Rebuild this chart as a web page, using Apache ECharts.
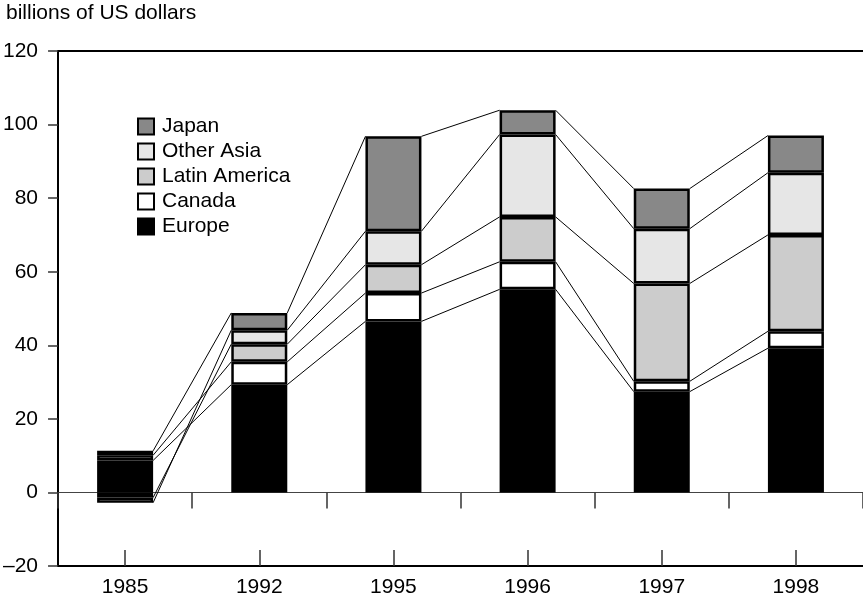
<!DOCTYPE html>
<html><head><meta charset="utf-8">
<script src="https://cdn.jsdelivr.net/npm/echarts@6.0.0/dist/echarts.min.js"></script>
<style>html,body{margin:0;padding:0;background:#fff}#c{width:863px;height:602px}</style>
</head><body><div id="c"></div>
<script>
// ---- data (billions of US dollars) ----
const categories   = ['1985', '1992', '1995', '1996', '1997', '1998'];
const europe       = [8.7, 29.3, 46.5, 55.2, 27.4, 39.2];
const canada       = [1.4, 6.2, 7.7, 7.5, 2.8, 4.6];
const latinAmerica = [-1.4, 4.8, 7.7, 12.2, 26.6, 26.2];
const otherAsia    = [-1.4, 3.8, 9.1, 22.4, 14.9, 16.9];
const japan        = [1.2, 4.7, 25.8, 6.6, 10.9, 10.1];
const seriesNames  = ['Europe', 'Canada', 'Latin America', 'Other Asia', 'Japan'];
const legendOrder  = ['Japan', 'Other Asia', 'Latin America', 'Canada', 'Europe'];
const yMin = -20, yMax = 120, yStep = 20;

// ---- styling ----
const FONT = 'Liberation Sans, Arial, Helvetica, sans-serif';
const BAR_W = 56;
const colors = { 'Europe': '#000000', 'Canada': '#ffffff', 'Latin America': '#cccccc', 'Other Asia': '#e6e6e6', 'Japan': '#888888' };
const seriesData = [europe, canada, latinAmerica, otherAsia, japan];

// outer edge of each stacked segment (same-sign stacking), used for connector lines
const edges = seriesData.map(() => []);
for (let i = 0; i < categories.length; i++) {
  let pos = 0, neg = 0;
  seriesData.forEach((arr, s) => {
    const v = arr[i];
    if (v >= 0) { pos += v; edges[s][i] = pos; } else { neg += v; edges[s][i] = neg; }
  });
}
const connectorData = [];
seriesData.forEach((arr, s) => {
  for (let i = 0; i < categories.length - 1; i++) connectorData.push([i, edges[s][i], edges[s][i + 1]]);
});

const chart = echarts.init(document.getElementById('c'), null, { renderer: 'canvas' });
const barSeries = seriesNames.map((name, s) => ({
  name, type: 'bar', stack: 'total', data: seriesData[s], barWidth: BAR_W,
  xAxisIndex: 0, yAxisIndex: 0, z: 3,
  itemStyle: { color: colors[name], borderColor: '#000', borderWidth: 2.5 },
  emphasis: { disabled: true }
}));

chart.setOption({
  animation: false,
  backgroundColor: '#fff',
  textStyle: { fontFamily: FONT },
  title: { text: 'billions of US dollars', left: 4, top: 1, padding: [2, 2, 2, 2],
    textStyle: { fontFamily: FONT, fontSize: 21, fontWeight: 'normal', color: '#000' } },
  legend: {
    data: legendOrder, orient: 'vertical', left: 137, top: 116, padding: 0,
    icon: 'rect', itemWidth: 16, itemHeight: 16, itemGap: 4,
    itemStyle: { borderColor: '#000', borderWidth: 2 },
    textStyle: { fontFamily: FONT, fontSize: 21, color: '#000', lineHeight: 21, padding: [0, 0, 0, 3] },
    selectedMode: false
  },
  grid: { left: 57, right: -2, top: 51, bottom: 36, containLabel: false },
  xAxis: [
    { type: 'category', data: categories, position: 'bottom',
      axisLine: { onZero: false, lineStyle: { color: '#000', width: 2 } },
      axisTick: { show: true, inside: true, alignWithLabel: true, length: 16, lineStyle: { color: '#333', width: 1.5 } },
      axisLabel: { fontFamily: FONT, fontSize: 21, color: '#000', margin: 11 },
      splitLine: { show: false } },
    { type: 'category', data: categories, position: 'bottom',
      axisLine: { onZero: true, lineStyle: { color: '#444', width: 1 } },
      axisTick: { show: true, inside: false, length: 16, lineStyle: { color: '#333', width: 1.5 } },
      axisLabel: { show: false }, splitLine: { show: false } },
    { type: 'category', data: categories, position: 'top',
      axisLine: { onZero: false, lineStyle: { color: '#000', width: 2 } },
      axisTick: { show: false }, axisLabel: { show: false }, splitLine: { show: false } }
  ],
  yAxis: {
    type: 'value', min: yMin, max: yMax, interval: yStep,
    axisLine: { show: true, onZero: false, lineStyle: { color: '#000', width: 2 } },
    axisTick: { show: true, inside: false, length: 10, lineStyle: { color: '#333', width: 1.5 } },
    axisLabel: { fontFamily: FONT, fontSize: 21, color: '#000', margin: 20,
      formatter: v => (v < 0 ? '\u2013' + Math.abs(v) : String(v)) },
    splitLine: { show: false }
  },
  series: [
    { name: 'connectors', type: 'custom', xAxisIndex: 0, yAxisIndex: 0, z: 2,
      data: connectorData, encode: { x: 0, y: [1, 2] }, silent: true,
      renderItem: (params, api) => {
        const i = api.value(0);
        const p1 = api.coord([i, api.value(1)]);
        const p2 = api.coord([i + 1, api.value(2)]);
        const h = BAR_W / 2;
        return { type: 'line', shape: { x1: p1[0] + h, y1: p1[1], x2: p2[0] - h, y2: p2[1] },
          style: { stroke: '#000', lineWidth: 1 } };
      } },
    ...barSeries
  ]
});
</script></body></html>
